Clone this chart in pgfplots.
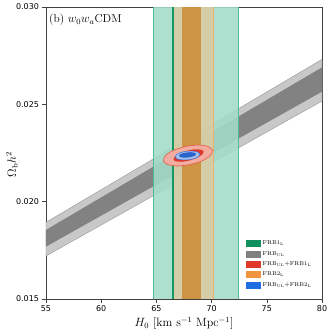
\documentclass[border=0pt]{standalone}
\usepackage{fontspec}
\usepackage{pgfplots}
\pgfplotsset{compat=1.18}
\newfontfamily\dejavu{DejaVu Sans}

\definecolor{glight}{HTML}{A3DCC8}
\definecolor{gedge}{HTML}{4DBF96}
\definecolor{gdark}{HTML}{139A64}
\definecolor{grayA}{HTML}{C8C8C8}
\definecolor{grayB}{HTML}{828282}
\definecolor{grayedge}{HTML}{A0A0A0}
\definecolor{olight}{HTML}{D8CBA3}
\definecolor{oedge}{HTML}{EBB36E}
\definecolor{odark}{HTML}{CC903B}
\definecolor{rlight}{HTML}{F2ACA0}
\definecolor{redge}{HTML}{E65A48}
\definecolor{rdark}{HTML}{E0382A}
\definecolor{blight}{HTML}{A5BEEB}
\definecolor{bedge}{HTML}{3A74D6}
\definecolor{bdark}{HTML}{2864CC}
\definecolor{legG}{HTML}{10905C}
\definecolor{legK}{HTML}{808080}
\definecolor{legR}{HTML}{E0392B}
\definecolor{legO}{HTML}{F0943E}
\definecolor{legB}{HTML}{1F6FE0}

\begin{document}
\begin{tikzpicture}
\begin{axis}[
  width=276pt, height=292pt, scale only axis,
  xmin=55, xmax=80, ymin=0.015, ymax=0.030,
  xtick={55,60,65,70,75,80},
  xticklabels={55,60,65,70,75,80},
  ytick={0.015,0.020,0.025,0.030},
  yticklabels={0.015,0.020,0.025,0.030},
  scaled y ticks=false,
  tick align=outside, tick pos=left,
  major tick length=3.5pt,
  axis line style={black!75, line width=0.6pt},
  tick style={black!75, line width=0.6pt},
  ticklabel style={font=\dejavu\fontsize{8}{9}\selectfont},
  xlabel={$H_0\ [\mathrm{km\ s^{-1}\ Mpc^{-1}}]$},
  ylabel={$\Omega_\mathrm{b}h^2$},
  label style={font=\fontsize{12}{14}\selectfont},
  xlabel style={yshift=2pt},
  ylabel style={at={([xshift=-34pt]rel axis cs:0,0.46)}, anchor=center},
  legend style={at={(rel axis cs:0.98,0.025)}, anchor=south east,
    draw=none, fill=none, font=\fontsize{5.6}{6.6}\selectfont,
    row sep=1pt, cells={anchor=west}},
  legend image code/.code={\fill[#1] (0pt,-3pt) rectangle (14pt,3pt);},
]
% FRB_UL band (Omega_b h^2 vs H0)
\addplot[fill=grayA, draw=grayedge, line width=0.5pt, forget plot]
  coordinates {(55,0.01721)(80,0.02517)(80,0.02731)(55,0.01894)} -- cycle;
\addplot[fill=grayB, draw=none, forget plot]
  coordinates {(55,0.01769)(80,0.02565)(80,0.02690)(55,0.01855)} -- cycle;

% FRB1_L band
\addplot[fill=glight, fill opacity=0.88, draw=none, forget plot]
  coordinates {(64.69,0.015)(64.69,0.030)(72.39,0.030)(72.39,0.015)} -- cycle;
\addplot[gedge, line width=0.6pt, forget plot] coordinates {(64.69,0.015)(64.69,0.030)};
\addplot[gedge, line width=0.6pt, forget plot] coordinates {(72.39,0.015)(72.39,0.030)};
\addplot[fill=gdark, draw=none, forget plot]
  coordinates {(66.40,0.015)(66.40,0.030)(66.62,0.030)(66.62,0.015)} -- cycle;

% FRB2_L band
\addplot[fill=olight, fill opacity=0.9, draw=none, forget plot]
  coordinates {(66.62,0.015)(66.62,0.030)(70.15,0.030)(70.15,0.015)} -- cycle;
\addplot[oedge, line width=0.5pt, forget plot] coordinates {(70.15,0.015)(70.15,0.030)};
\addplot[fill=odark, fill opacity=0.92, draw=none, forget plot]
  coordinates {(67.32,0.015)(67.32,0.030)(69.04,0.030)(69.04,0.015)} -- cycle;

% FRB_UL + FRB1_L
\addplot[smooth, fill=rlight, draw=redge, line width=0.6pt, forget plot] coordinates {
  (68.03,0.02190)(66.90,0.02183)(66.02,0.02191)(65.64,0.02211)(65.85,0.02239)
  (66.60,0.02265)(67.69,0.02284)(68.82,0.02291)(69.70,0.02283)(70.08,0.02263)
  (69.87,0.02236)(69.12,0.02209)(68.03,0.02190)} -- cycle;
\addplot[smooth, fill=rdark, draw=none, forget plot] coordinates {
  (68.03,0.02212)(67.33,0.02205)(66.80,0.02207)(66.55,0.02216)(66.68,0.02232)
  (67.13,0.02248)(67.79,0.02262)(68.49,0.02269)(69.02,0.02267)(69.27,0.02258)
  (69.14,0.02242)(68.69,0.02226)(68.03,0.02212)} -- cycle;

% FRB_UL + FRB2_L
\addplot[smooth, fill=blight, draw=bedge, line width=0.5pt, forget plot] coordinates {
  (67.86,0.02215)(67.29,0.02215)(66.87,0.02220)(66.69,0.02230)(66.82,0.02242)
  (67.22,0.02253)(67.78,0.02259)(68.35,0.02259)(68.77,0.02254)(68.95,0.02244)
  (68.82,0.02232)(68.42,0.02221)(67.86,0.02215)} -- cycle;
\addplot[smooth, fill=bdark, draw=none, forget plot] coordinates {
  (67.84,0.02227)(67.46,0.02226)(67.17,0.02229)(67.05,0.02235)(67.14,0.02243)
  (67.42,0.02249)(67.80,0.02253)(68.18,0.02254)(68.47,0.02251)(68.59,0.02245)
  (68.50,0.02237)(68.22,0.02231)(67.84,0.02227)} -- cycle;

\addlegendimage{legG}
\addlegendentry{FRB1$_{\mathrm{L}}$}
\addlegendimage{legK}
\addlegendentry{FRB$_{\mathrm{UL}}$}
\addlegendimage{legR}
\addlegendentry{FRB$_{\mathrm{UL}}+$FRB1$_{\mathrm{L}}$}
\addlegendimage{legO}
\addlegendentry{FRB2$_{\mathrm{L}}$}
\addlegendimage{legB}
\addlegendentry{FRB$_{\mathrm{UL}}+$FRB2$_{\mathrm{L}}$}

\node[anchor=north west, inner sep=0pt, font=\fontsize{11.5}{13}\selectfont]
  at ([shift={(3pt,-7pt)}]rel axis cs:0,1) {(b) $w_0w_a$CDM};
\end{axis}
\pgfresetboundingbox
\path ([shift={(-46pt,-34pt)}]current axis.south west)
  rectangle ([shift={(10pt,7pt)}]current axis.north east);
\end{tikzpicture}
\end{document}
